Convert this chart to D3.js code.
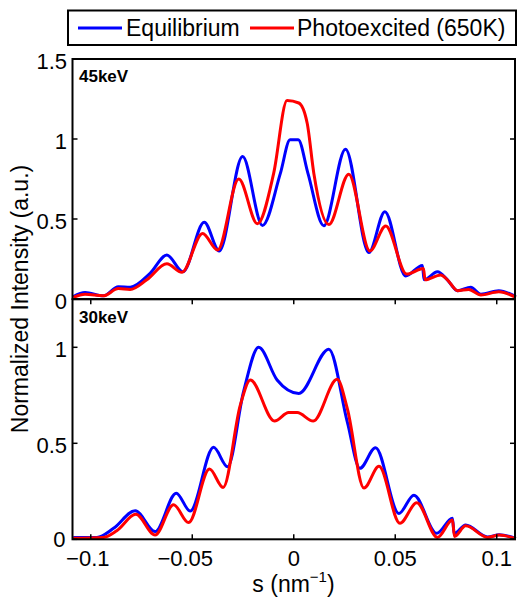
<!DOCTYPE html>
<html><head><meta charset="utf-8">
<script src="https://cdn.jsdelivr.net/npm/d3@7"></script>
<style>
html,body{margin:0;padding:0;background:#fff;}
text{font-family:"Liberation Sans",Arial,Helvetica,sans-serif;fill:#000;}
</style></head>
<body><svg id="c" width="518" height="599"></svg>
<script>
// ---- data ----
const xTicks = [-0.1, -0.05, 0, 0.05, 0.1];
const topYTicks = [0, 0.5, 1, 1.5];
const botYTicks = [0, 0.5, 1];
const seriesNames = ["Equilibrium", "Photoexcited (650K)"];
const panelLabels = ["45keV", "30keV"];

const top45Equilibrium = [
 [-0.1086,0.015],[-0.1028,0.04],[-0.0938,0.02],[-0.0864,0.077],[-0.0806,0.073],
 [-0.0708,0.16],[-0.0625,0.275],[-0.0546,0.17],[-0.0441,0.48],[-0.0367,0.30],
 [-0.0252,0.89],[-0.0154,0.46],[-0.0066,0.785],[-0.0018,0.995],[0.0022,0.995],
 [0.0070,0.785],[0.0148,0.458],
 [0.0255,0.936],[0.037,0.29],[0.0449,0.546],[0.0551,0.144],[0.0634,0.21],
 [0.0642,0.12],[0.0708,0.17],[0.0757,0.12],[0.0807,0.052],[0.0872,0.073],
 [0.0922,0.03],[0.101,0.052],[0.1094,0.015]
];
const top45Photo = [
 [-0.1086,0.01],[-0.1028,0.03],[-0.0938,0.02],[-0.0864,0.065],[-0.0806,0.06],
 [-0.0724,0.12],[-0.0625,0.22],[-0.0551,0.167],[-0.0449,0.41],[-0.0375,0.306],
 [-0.0271,0.75],[-0.0179,0.47],[-0.0099,0.785],[-0.0033,1.24],[0.0025,1.225],
 [0.0066,1.10],[0.0099,0.785],[0.0173,0.465],[0.0271,0.78],[0.0375,0.30],[0.0453,0.456],
 [0.0556,0.156],[0.0639,0.19],[0.0647,0.12],[0.0724,0.15],[0.0757,0.12],
 [0.0807,0.052],[0.0862,0.06],[0.0922,0.025],[0.101,0.045],[0.1094,0.01]
];
const bot30Equilibrium = [
 [-0.1086,0.01],[-0.097,0.01],[-0.0888,0.057],[-0.0781,0.149],[-0.0683,0.04],
 [-0.0579,0.24],[-0.051,0.147],[-0.0395,0.479],[-0.0326,0.378],[-0.0247,0.77],
 [-0.0173,1.0],[-0.0082,0.83],[0.0025,0.76],[0.0173,0.99],[0.0264,0.61],
 [0.0326,0.37],[0.0403,0.477],[0.0518,0.135],[0.0592,0.23],[0.0704,0.031],
 [0.0782,0.11],[0.079,0.03],[0.0847,0.075],[0.0955,0.012],[0.1012,0.024],[0.1094,0.005]
];
const bot30Photo = [
 [-0.1086,0.005],[-0.0938,0.01],[-0.0872,0.045],[-0.0778,0.13],[-0.0683,0.022],
 [-0.0592,0.18],[-0.0518,0.087],[-0.0415,0.366],[-0.0348,0.27],[-0.0263,0.70],
 [-0.0214,0.83],[-0.0095,0.616],[-0.0025,0.66],[0.0017,0.66],[0.0096,0.616],
 [0.0214,0.833],[0.0264,0.68],[0.0346,0.267],[0.042,0.38],[0.0523,0.083],
 [0.0606,0.19],[0.0708,0.01],[0.0782,0.10],[0.0792,0.015],[0.0847,0.07],
 [0.0955,0.01],[0.1012,0.022],[0.1094,0.003]
];
const colors = ["#0000ff", "#ff0000"];

// ---- layout ----
const svg = d3.select("#c");
const left = 72.5, right = 515;
const x = d3.scaleLinear().domain([-0.109, 0.109]).range([left, right]);
const yTop = d3.scaleLinear().domain([0, 1.5]).range([299, 59]);
const yBot = d3.scaleLinear().domain([0, 1.25]).range([539.3, 299.3]);
const tickLen = 5;

function panel(y, ticks, data, label, showX, labelY) {
  const g = svg.append("g");
  const line = d3.line().x(d => x(d[0])).y(d => y(d[1])).curve(d3.curveMonotoneX);
  data.forEach((d, i) => {
    g.append("path").attr("d", line(d)).attr("fill", "none")
      .attr("stroke", colors[i]).attr("stroke-width", 3).attr("stroke-linejoin", "round");
  });
  const [y0, y1] = y.range();
  // box
  g.append("rect").attr("x", left).attr("y", y1).attr("width", right - left).attr("height", y0 - y1)
    .attr("fill", "none").attr("stroke", "#000").attr("stroke-width", 2);
  // y ticks
  ticks.forEach(t => {
    g.append("line").attr("x1", left).attr("x2", left + tickLen).attr("y1", y(t)).attr("y2", y(t))
      .attr("stroke", "#000").attr("stroke-width", 1.5);
    g.append("line").attr("x1", right).attr("x2", right - tickLen).attr("y1", y(t)).attr("y2", y(t))
      .attr("stroke", "#000").attr("stroke-width", 1.5);
    const bottomZero = showX && t === 0;
    g.append("text").attr("x", bottomZero ? 65.5 : 67).attr("y", y(t) + (bottomZero ? 8 : 10))
      .attr("text-anchor", "end").attr("font-size", 22).text(d3.format("")(t));
  });
  if (showX) {
    xTicks.forEach(t => {
      g.append("line").attr("x1", x(t)).attr("x2", x(t)).attr("y1", y1).attr("y2", y1 + tickLen)
        .attr("stroke", "#000").attr("stroke-width", 1.5);
      g.append("line").attr("x1", x(t)).attr("x2", x(t)).attr("y1", y0).attr("y2", y0 - tickLen)
        .attr("stroke", "#000").attr("stroke-width", 1.5);
      const dx = t < -0.075 ? -3 : (t < 0 ? -7 : 0);
      g.append("text").attr("x", x(t) + dx).attr("y", 566).attr("text-anchor", "middle")
        .attr("font-size", 22).text(t < 0 ? "\u2212" + String(-t) : String(t));
    });
  }
  g.append("text").attr("x", 79).attr("y", labelY).attr("font-size", 17).attr("font-weight", "bold").text(label);
}

panel(yTop, topYTicks, [top45Equilibrium, top45Photo], panelLabels[0], false, 82);
panel(yBot, botYTicks, [bot30Equilibrium, bot30Photo], panelLabels[1], true, 323);

// axis labels
svg.append("text").attr("transform", "translate(28,299) rotate(-90)").attr("text-anchor", "middle")
  .attr("font-size", 23).text("Normalized Intensity (a.u.)");
const xl = svg.append("text").attr("x", 293.5).attr("y", 592).attr("text-anchor", "middle").attr("font-size", 23);
xl.append("tspan").text("s (nm");
xl.append("tspan").attr("font-size", 15).attr("dy", -10).text("\u22121");
xl.append("tspan").attr("dy", 10).text(")");

// legend
const lg = svg.append("g");
lg.append("rect").attr("x", 68).attr("y", 10.5).attr("width", 448).attr("height", 34.5)
  .attr("fill", "#fff").attr("stroke", "#000").attr("stroke-width", 2);
const legendItems = [{lx: 78, tx: 126}, {lx: 250, tx: 297}];
seriesNames.forEach((n, i) => {
  lg.append("line").attr("x1", legendItems[i].lx).attr("x2", legendItems[i].lx + 44)
    .attr("y1", 28).attr("y2", 28).attr("stroke", colors[i]).attr("stroke-width", 3);
  lg.append("text").attr("x", legendItems[i].tx).attr("y", 36).attr("font-size", 23).text(n);
});
</script></body></html>
